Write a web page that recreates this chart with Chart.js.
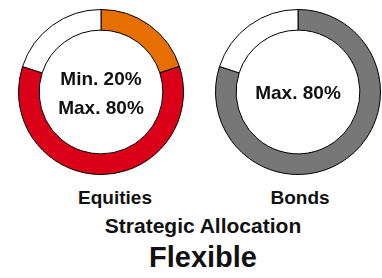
<!DOCTYPE html>
<html>
<head>
<meta charset="utf-8">
<script src="https://cdn.jsdelivr.net/npm/chart.js@4"></script>
<style>
  html, body { margin: 0; padding: 0; background: #fff; }
  #wrap { position: relative; width: 382px; height: 278px; overflow: hidden; }
  canvas { position: absolute; }
  .txt {
    position: absolute; white-space: nowrap; line-height: 1;
    font-family: "Liberation Sans", Arial, sans-serif; font-weight: bold; color: #111;
    transform: translateX(-50%);
  }
</style>
</head>
<body>
<div id="wrap">
  <canvas id="equities" width="170" height="170" style="left:16px;top:7px"></canvas>
  <canvas id="bonds" width="170" height="170" style="left:213px;top:7px"></canvas>
</div>
<script>
// Equities ring: minimum share, band up to maximum, remainder
const equitiesLabels = ["Min.", "Max.", "Rest"];
const equitiesValues = [20, 60, 20];
const equitiesColors = ["#E66F00", "#DA0018", "#FFFFFF"];

// Bonds ring: maximum share, remainder
const bondsLabels = ["Max.", "Rest"];
const bondsValues = [80, 20];
const bondsColors = ["#777777", "#FFFFFF"];

const equitiesCenter = ["Min. 20%", "Max. 80%"];
const bondsCenter = ["Max. 80%"];
const chartLabels = ["Equities", "Bonds"];
const subtitle = "Strategic Allocation";
const title = "Flexible";

function makeRing(id, labels, values, colors) {
    new Chart(document.getElementById(id).getContext("2d"), {
        type: "doughnut",
        data: {
            labels,
            datasets: [{ data: values, backgroundColor: colors, borderColor: "#000", borderWidth: 1 }]
        },
        options: {
            responsive: false,
            animation: false,
            cutout: "75%",
            layout: { padding: 2 },
            plugins: { legend: { display: false }, tooltip: { enabled: false } }
        }
    });
}

makeRing("equities", equitiesLabels, equitiesValues, equitiesColors);
makeRing("bonds", bondsLabels, bondsValues, bondsColors);

// place text so that its baseline lands at y
function addText(str, x, baseline, size) {
    const d = document.createElement("div");
    d.className = "txt";
    d.textContent = str;
    d.style.fontSize = size + "px";
    d.style.left = x + "px";
    d.style.top = (baseline - 0.8465 * size) + "px";
    document.getElementById("wrap").appendChild(d);
}

addText(equitiesCenter[0], 101, 85, 19);
addText(equitiesCenter[1], 101, 114, 19);
addText(bondsCenter[0], 298, 99, 19);
addText(chartLabels[0], 115, 204, 19);
addText(chartLabels[1], 300, 204, 19);
addText(subtitle, 203, 233, 21);
addText(title, 203, 268, 29);
</script>
</body>
</html>
